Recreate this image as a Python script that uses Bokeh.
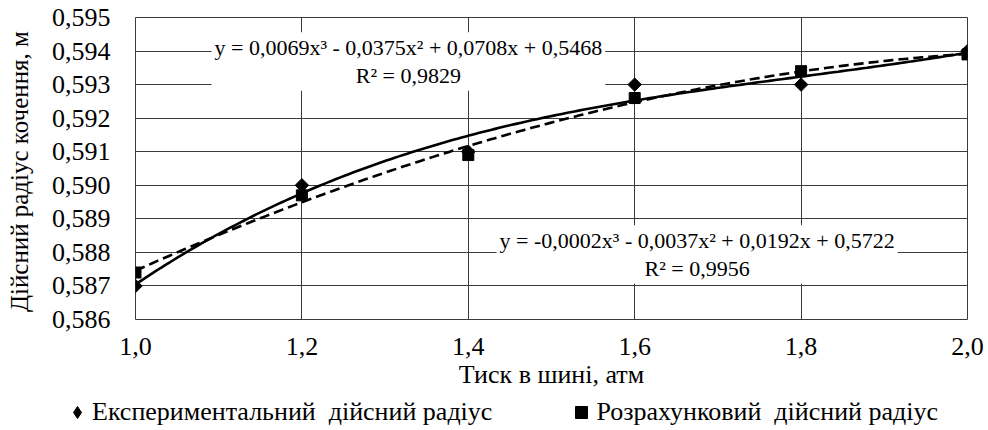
import numpy as np
from bokeh.plotting import figure
from bokeh.models import (Range1d, CustomJSTickFormatter, Label, Legend,
                          LegendItem)
from bokeh.embed import file_html
from bokeh.resources import INLINE

# ---- data ----
pressure = [1.0, 1.2, 1.4, 1.6, 1.8, 2.0]
radius_exp = [0.5870, 0.5900, 0.5910, 0.5930, 0.5930, 0.5940]
radius_calc = [0.5874, 0.5897, 0.5909, 0.5926, 0.5934, 0.5939]

x_ticks = [1.0, 1.2, 1.4, 1.6, 1.8, 2.0]
y_ticks = [0.586, 0.587, 0.588, 0.589, 0.590, 0.591, 0.592, 0.593, 0.594, 0.595]

eq_exp = "y = 0,0069x³ - 0,0375x² + 0,0708x + 0,5468\nR² = 0,9829"
eq_calc = "y = -0,0002x³ - 0,0037x² + 0,0192x + 0,5722\nR² = 0,9956"

label_exp = "Експериментальний  дійсний радіус"
label_calc = "Розрахунковий  дійсний радіус"
x_title = "Тиск в шині, атм"
y_title = "Дійсний радіус кочення,  м"

FONT = "'Liberation Serif'"
GRID = "#3a3a3a"
ROT = np.pi / 4  # rotated square = Excel-style diamond

W = 984
H1 = 397   # main chart
H2 = 31    # legend strip

p = figure(width=W, height=H1, output_backend="svg", toolbar_location=None,
           x_range=Range1d(1.0, 2.0), y_range=Range1d(0.586, 0.595),
           min_border_left=135, min_border_right=W - 967, min_border_top=17,
           min_border_bottom=H1 - 319)

p.background_fill_color = "white"
p.border_fill_color = "white"
p.outline_line_color = GRID
p.outline_line_width = 1

# axes
p.xaxis.ticker = x_ticks
p.yaxis.ticker = y_ticks
p.xaxis.formatter = CustomJSTickFormatter(code="return tick.toFixed(1).replace('.', ',');")
p.yaxis.formatter = CustomJSTickFormatter(code="return tick.toFixed(3).replace('.', ',');")
for ax in (p.xaxis, p.yaxis):
    ax.axis_line_color = None
    ax.major_tick_line_color = None
    ax.minor_tick_line_color = None
    ax.major_tick_in = 0
    ax.major_tick_out = 0
    ax.major_label_text_font = FONT
    ax.major_label_text_font_size = "26px"
    ax.major_label_text_color = "black"
    ax.axis_label_text_font = FONT
    ax.axis_label_text_font_size = "26px"
    ax.axis_label_text_font_style = "normal"
    ax.axis_label_text_color = "black"
p.yaxis.axis_label_text_font_size = "25px"
p.xaxis.axis_label = x_title
p.yaxis.axis_label = y_title
p.xaxis.major_label_standoff = 18
p.xaxis.axis_label_standoff = 2
p.yaxis.major_label_standoff = 25
p.yaxis.axis_label_standoff = 16

p.xgrid.grid_line_color = GRID
p.ygrid.grid_line_color = GRID
p.xgrid.grid_line_width = 1
p.ygrid.grid_line_width = 1

# cubic trendlines fitted to each series
xs = np.linspace(1.0, 2.0, 200)
fit_exp = np.polyfit(pressure, radius_exp, 3)
fit_calc = np.polyfit(pressure, radius_calc, 3)

p.scatter(pressure, radius_exp, marker="square", angle=ROT, size=9.5,
          fill_color="black", line_color="black")
p.scatter(pressure, radius_calc, marker="square", size=11,
          fill_color="black", line_color="black")
p.line(xs, np.polyval(fit_exp, xs), line_color="black", line_width=2.6)
p.line(xs, np.polyval(fit_calc, xs), line_color="black", line_width=2.6,
       line_dash="10 5")

# equation labels
for (lx, ly, txt) in [(1.328, 0.59369, eq_exp), (1.675, 0.58794, eq_calc)]:
    p.add_layout(Label(x=lx, y=ly, text=txt, text_align="center",
                       text_baseline="middle", text_font=FONT,
                       text_font_size="22px", text_line_height=1.1,
                       text_color="black",
                       background_fill_color="white", padding=3))

# legend strip below the chart (separate root so its frame spans full width)
lg = figure(width=W, height=H2, output_backend="svg", toolbar_location=None,
            x_range=Range1d(0, 1), y_range=Range1d(0, 1),
            min_border_left=0, min_border_right=0, min_border_top=0,
            min_border_bottom=0)
lg.axis.visible = False
lg.grid.visible = False
lg.outline_line_color = None
lg.background_fill_color = "white"
lg.border_fill_color = "white"
nan = [float("nan")]
d_exp = lg.scatter(nan, nan, marker="diamond", size=13,
                   fill_color="black", line_color="black")
d_calc = lg.scatter(nan, nan, marker="square", size=9,
                    fill_color="black", line_color="black")
legend = Legend(items=[LegendItem(label=label_exp, renderers=[d_exp]),
                       LegendItem(label=label_calc, renderers=[d_calc])],
                orientation="horizontal", location=(62, 1),
                border_line_color=None, background_fill_alpha=0,
                label_text_font=FONT, label_text_font_size="26px",
                label_text_color="black",
                glyph_width=30, glyph_height=30, label_standoff=0,
                spacing=74, padding=0, margin=0)
lg.add_layout(legend, "center")

open("out.html", "w").write(file_html([p, lg], INLINE))
